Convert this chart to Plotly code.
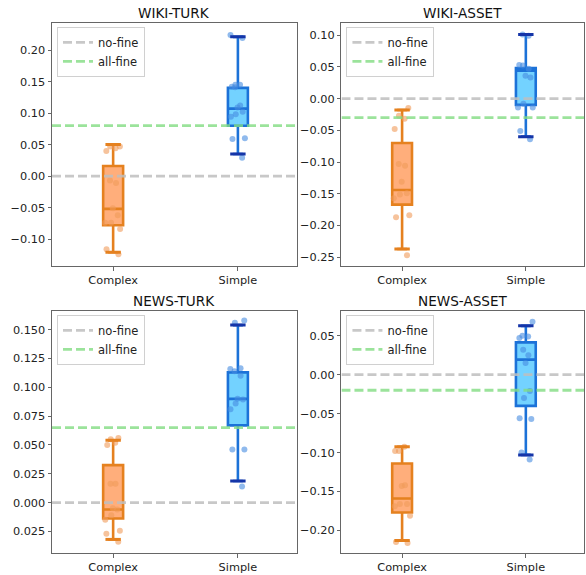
import plotly.graph_objects as go

# ---------------- data ----------------
categories = ["Complex", "Simple"]
panel_titles = ["WIKI-TURK", "WIKI-ASSET", "NEWS-TURK", "NEWS-ASSET"]
baseline_labels = ["no-fine", "all-fine"]
no_fine = [0.0, 0.0, 0.0, 0.0]
all_fine = [0.080, -0.030, 0.065, -0.020]

# box stats: [lower whisker, q1, median, q3, upper whisker]
wiki_turk_complex_stats = [-0.121, -0.078, -0.052, 0.016, 0.050]
wiki_turk_simple_stats = [0.035, 0.080, 0.107, 0.140, 0.221]
wiki_asset_complex_stats = [-0.237, -0.167, -0.144, -0.070, -0.018]
wiki_asset_simple_stats = [-0.060, -0.010, 0.044, 0.048, 0.101]
news_turk_complex_stats = [-0.032, -0.0138, -0.006, 0.0325, 0.054]
news_turk_simple_stats = [0.0187, 0.067, 0.090, 0.113, 0.154]
news_asset_complex_stats = [-0.213, -0.177, -0.159, -0.114, -0.0925]
news_asset_simple_stats = [-0.103, -0.040, 0.0193, 0.0415, 0.0627]

# individual points
wiki_turk_complex_pts = [0.047, 0.047, 0.044, 0.040, -0.007, -0.011, -0.051,
                         -0.062, -0.074, -0.074, -0.084, -0.116, -0.124]
wiki_turk_simple_pts = [0.224, 0.219, 0.145, 0.145, 0.142, 0.141, 0.112,
                        0.109, 0.102, 0.098, 0.094, 0.060, 0.059, 0.029]
wiki_asset_complex_pts = [-0.015, -0.027, -0.032, -0.048, -0.106, -0.103, -0.131,
                          -0.149, -0.151, -0.157, -0.184, -0.187, -0.247]
wiki_asset_simple_pts = [0.101, 0.099, 0.052, 0.053, 0.047, 0.036, 0.033,
                         -0.008, -0.014, -0.014, -0.051, -0.064]
news_turk_complex_pts = [0.056, 0.052, 0.050, 0.055, 0.0164, 0.0164, -0.005,
                         -0.006, -0.011, -0.015, -0.0245, -0.027, -0.034]
news_turk_simple_pts = [0.158, 0.156, 0.116, 0.1166, 0.114, 0.110, 0.086,
                        0.0895, 0.090, 0.081, 0.046, 0.046, 0.014]
news_asset_complex_pts = [-0.098, -0.0925, -0.098, -0.142, -0.143, -0.166,
                          -0.166, -0.169, -0.181, -0.216, -0.215]
news_asset_simple_pts = [0.068, 0.050, 0.047, 0.049, 0.032, 0.025, 0.015,
                         -0.021, -0.030, -0.057, -0.056, -0.100, -0.109]

# y ticks
wiki_turk_ticks = [-0.10, -0.05, 0.00, 0.05, 0.10, 0.15, 0.20]
wiki_turk_ticktext = ["\u22120.10", "\u22120.05", "0.00", "0.05", "0.10", "0.15", "0.20"]
wiki_asset_ticks = [-0.25, -0.20, -0.15, -0.10, -0.05, 0.00, 0.05, 0.10]
wiki_asset_ticktext = ["\u22120.25", "\u22120.20", "\u22120.15", "\u22120.10", "\u22120.05",
                       "0.00", "0.05", "0.10"]
news_turk_ticks = [-0.025, 0.000, 0.025, 0.050, 0.075, 0.100, 0.125, 0.150]
news_turk_ticktext = ["0.025", "0.000", "0.025", "0.050", "0.075", "0.100", "0.125", "0.150"]
news_asset_ticks = [-0.20, -0.15, -0.10, -0.05, 0.00, 0.05]
news_asset_ticktext = ["\u22120.20", "\u22120.15", "\u22120.10", "\u22120.05", "0.00", "0.05"]

panels = [
    (wiki_turk_complex_stats, wiki_turk_simple_stats, wiki_turk_complex_pts,
     wiki_turk_simple_pts, wiki_turk_ticks, wiki_turk_ticktext),
    (wiki_asset_complex_stats, wiki_asset_simple_stats, wiki_asset_complex_pts,
     wiki_asset_simple_pts, wiki_asset_ticks, wiki_asset_ticktext),
    (news_turk_complex_stats, news_turk_simple_stats, news_turk_complex_pts,
     news_turk_simple_pts, news_turk_ticks, news_turk_ticktext),
    (news_asset_complex_stats, news_asset_simple_stats, news_asset_complex_pts,
     news_asset_simple_pts, news_asset_ticks, news_asset_ticktext),
]
y_ranges = [[-0.143, 0.243], [-0.264, 0.119], [-0.0438, 0.1664], [-0.229, 0.082]]

# ---------------- style ----------------
W, H = 586, 575
ML, MR, MT, MB = 52, 1, 23, 18
PW, PH = W - ML - MR, H - MT - MB
x_domains = [[0.0, 245 / PW], [290 / PW, 1.0]]
y_domains = [[1 - 245 / PH, 1.0], [0.0, 244 / PH]]
x_range = [-0.49, 1.47]

line_cols = ["#e5811f", "#1c72d8"]
fill_cols = ["rgba(255,160,100,0.85)", "rgba(100,205,255,0.9)"]
pt_cols = ["rgba(240,155,90,0.6)", "rgba(70,140,225,0.6)"]
cap_cols = ["#e5811f", "#1535a8"]
base_cols = ["rgba(190,190,190,0.85)", "rgba(130,220,130,0.8)"]
font_family = "DejaVu Sans, sans-serif"

fig = go.Figure()
layout = dict(
    width=W, height=H, margin=dict(l=ML, r=MR, t=MT, b=MB),
    plot_bgcolor="white", paper_bgcolor="white",
    font=dict(family=font_family, size=11.3, color="#222"),
    showlegend=True, boxmode="overlay", annotations=[],
)

for i, (cs, ss, cp, sp, tv, tt) in enumerate(panels):
    n = i + 1
    suf = "" if n == 1 else str(n)
    xa, ya = "x" + suf, "y" + suf
    leg = "legend" + suf
    row, col = i // 2, i % 2
    xd, yd = x_domains[col], y_domains[row]

    for j, (stats, pts) in enumerate([(cs, cp), (ss, sp)]):
        fig.add_trace(go.Box(
            x=[j], lowerfence=[stats[0]], q1=[stats[1]], median=[stats[2]],
            q3=[stats[3]], upperfence=[stats[4]],
            width=0.16, whiskerwidth=0.5,
            line=dict(color=line_cols[j], width=2.6),
            fillcolor=fill_cols[j], boxpoints=False,
            xaxis=xa, yaxis=ya, showlegend=False, hoverinfo="skip",
        ))
        fig.add_trace(go.Scatter(
            x=[j, j], y=[stats[0], stats[4]], mode="markers",
            marker=dict(symbol="line-ew", size=11,
                        line=dict(color=cap_cols[j], width=3)),
            xaxis=xa, yaxis=ya, showlegend=False, hoverinfo="skip",
        ))
        fig.add_trace(go.Box(
            x=[j] * len(pts), y=pts, width=0.17,
            boxpoints="all", jitter=1.0, pointpos=0,
            line=dict(color="rgba(0,0,0,0)", width=0),
            fillcolor="rgba(0,0,0,0)",
            marker=dict(color=pt_cols[j], size=6),
            xaxis=xa, yaxis=ya, showlegend=False,
        ))

    for k, (lab, val) in enumerate(zip(baseline_labels, [no_fine[i], all_fine[i]])):
        fig.add_trace(go.Scatter(
            x=x_range, y=[val, val], mode="lines", name=lab,
            line=dict(color=base_cols[k], width=2.8, dash="9px,4px"),
            xaxis=xa, yaxis=ya, legend=leg, hoverinfo="skip",
        ))

    layout["xaxis" + suf] = dict(
        domain=xd, anchor=ya, range=x_range, tickvals=[0, 1], ticktext=categories,
        showline=True, mirror=True, linecolor="#666", linewidth=1,
        ticks="outside", ticklen=3.5, tickcolor="#666", showgrid=False,
        zeroline=False, tickfont=dict(size=11.3),
    )
    layout["yaxis" + suf] = dict(
        domain=yd, anchor=xa, range=y_ranges[i], tickvals=tv, ticktext=tt,
        showline=True, mirror=True, linecolor="#666", linewidth=1,
        ticks="outside", ticklen=3.5, tickcolor="#666", showgrid=False,
        zeroline=False, tickfont=dict(size=11.3),
    )
    layout[leg] = dict(
        x=xd[0] + 5 / PW, y=yd[1] - 4 / PH, xanchor="left", yanchor="top",
        xref="paper", yref="paper",
        bgcolor="rgba(255,255,255,0.85)", bordercolor="#d0d0d0", borderwidth=1,
        font=dict(size=11.5, color="#222"), tracegroupgap=0,
        itemwidth=30,
    )
    layout["annotations"].append(dict(
        text=panel_titles[i], x=(xd[0] + xd[1]) / 2, y=yd[1],
        xref="paper", yref="paper", xanchor="center", yanchor="bottom",
        showarrow=False, yshift=0, font=dict(size=13.6, color="#111"),
    ))

fig.update_layout(**layout)
fig.write_html(
    "out.html",
    config={"displayModeBar": False},
    post_script=("document.documentElement.style.margin='0';"
                 "document.body.style.margin='0';document.body.style.padding='0';"
                 "document.body.style.overflow='hidden';"),
)
